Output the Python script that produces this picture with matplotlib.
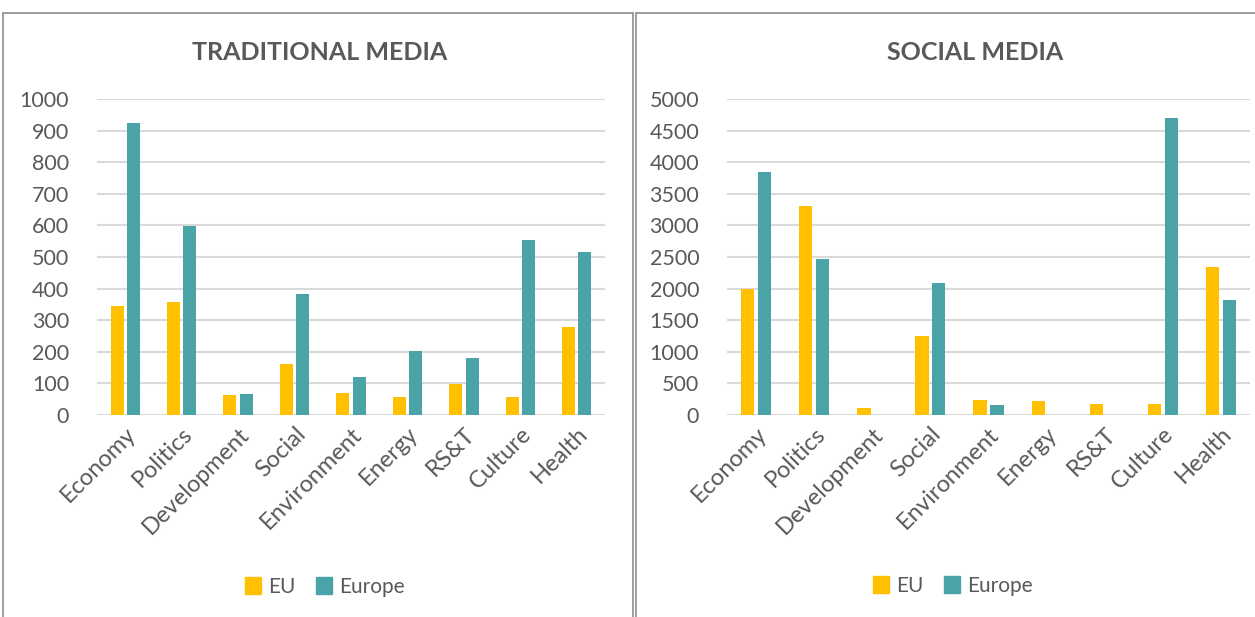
import numpy as np
import matplotlib.pyplot as plt
from matplotlib.patches import Rectangle, Patch

# ============ DADOS ============
categorias = ['Economy', 'Politics', 'Development', 'Social', 'Environment',
              'Energy', 'RS&T', 'Culture', 'Health']
trad_eu = [344, 359, 62, 161, 70, 58, 97, 58, 280]
trad_europe = [924, 599, 66, 383, 119, 204, 180, 553, 516]
social_eu = [1995, 3305, 111, 1250, 233, 222, 180, 175, 2346]
social_europe = [3840, 2468, 0, 2092, 154, 0, 0, 4703, 1822]

cor_eu = '#FFC000'
cor_europe = '#4AA3A6'
cinza = '#595959'
grade = '#D9D9D9'

plt.rcParams['font.family'] = ['Lato', 'DejaVu Sans']

fig = plt.figure(figsize=(12.55, 6.17), dpi=100)

# molduras dos dois painéis
for x0, w in [(3, 630), (636, 622)]:
    fig.patches.append(Rectangle((x0 / 1255, -0.01), w / 1255, (617 - 13) / 617 + 0.01,
                                 transform=fig.transFigure, fill=False,
                                 edgecolor='#8C8C8C', linewidth=1.2))


def painel(pos, eu, europe, titulo, ymax, passo, tx, lx, ly):
    ax = fig.add_axes(pos)
    x = np.arange(len(categorias))
    larg = 0.23
    ax.bar(x - 0.145, eu, larg, color=cor_eu, label='EU', zorder=3)
    ax.bar(x + 0.145, europe, larg, color=cor_europe, label='Europe', zorder=3)
    ax.set_xlim(-0.5, len(categorias) - 0.5)
    ax.set_ylim(0, ymax)
    ax.set_yticks(np.arange(0, ymax + 1, passo))
    ax.yaxis.grid(True, color=grade, linewidth=1.5, zorder=0)
    for s in ax.spines.values():
        s.set_visible(False)
    ax.tick_params(axis='both', length=0, labelcolor=cinza)
    ax.tick_params(axis='y', pad=20, labelsize=15.5)
    ax.tick_params(axis='x', pad=6, labelsize=17)
    ax.set_xticks(x)
    ax.set_xticklabels(categorias, rotation=45, ha='right', rotation_mode='anchor')
    fig.text(tx, 1 - 52 / 617, titulo, ha='center', va='center', fontsize=18,
             fontweight='bold', color=cinza)
    handles = [Patch(color=cor_eu, label='EU'), Patch(color=cor_europe, label='Europe')]
    fig.legend(handles=handles, loc='center', bbox_to_anchor=(lx, ly), ncol=2,
               frameon=False, fontsize=15, labelcolor=cinza, handlelength=0.75,
               handleheight=0.85, handletextpad=0.35, columnspacing=1.0)
    return ax


painel([97 / 1255, 202 / 617, 508 / 1255, 316 / 617], trad_eu, trad_europe,
       'TRADITIONAL MEDIA', 1000, 100, 320 / 1255, 325 / 1255, 1 - 587 / 617)
painel([727 / 1255, 202 / 617, 523 / 1255, 316 / 617], social_eu, social_europe,
       'SOCIAL MEDIA', 5000, 500, 975 / 1255, 953 / 1255, 1 - 586 / 617)

fig.savefig('out.png', dpi=100)
